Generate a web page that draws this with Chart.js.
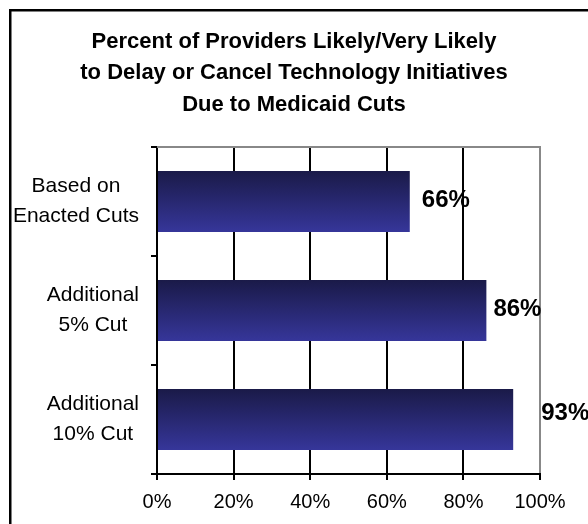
<!DOCTYPE html>
<html>
<head>
<meta charset="utf-8">
<script src="https://cdn.jsdelivr.net/npm/chart.js@4.4.1/dist/chart.umd.min.js"></script>
<style>
  html, body { margin: 0; padding: 0; background: #fff; }
  #wrap { width: 588px; height: 524px; }
</style>
</head>
<body>
<div id="wrap"><canvas id="chart"></canvas></div>
<script>
// Survey results
const categories = [['Based on', 'Enacted Cuts'], ['Additional', '5% Cut'], ['Additional', '10% Cut']];
const percentLikely = [66, 86, 93];
const xTickValues = [0, 20, 40, 60, 80, 100];
const titleLines = [
    'Percent of Providers Likely/Very Likely',
    'to Delay or Cancel Technology Initiatives',
    'Due to Medicaid Cuts'
];

// value label placement: gap after the bar end, and lift above bar centre
const labelGaps = [12, 7, 28];
const labelLifts = [1, 1, 6];

const FONT = '"Liberation Sans", Arial, sans-serif';

// Border around the whole figure
const framePlugin = {
    id: 'frame',
    beforeDraw(chart) {
        const ctx = chart.ctx;
        ctx.save();
        ctx.fillStyle = '#fff';
        ctx.fillRect(0, 0, chart.width, chart.height);
        ctx.strokeStyle = '#000';
        ctx.lineWidth = 2.5;
        ctx.strokeRect(10.25, 10.25, chart.width + 20, chart.height + 20);
        ctx.restore();
    }
};

// Gray line along the top of the plot area
const topEdgePlugin = {
    id: 'topEdge',
    beforeDatasetsDraw(chart) {
        const { ctx, chartArea } = chart;
        ctx.save();
        ctx.strokeStyle = '#888';
        ctx.lineWidth = 2;
        ctx.beginPath();
        ctx.moveTo(chartArea.left, chartArea.top);
        ctx.lineTo(chartArea.right + 1, chartArea.top);
        ctx.stroke();
        ctx.restore();
    }
};

// Two-line category names: each block sits left of the axis, lines centred inside it
const categoryLabelPlugin = {
    id: 'categoryLabels',
    afterDraw(chart) {
        const ctx = chart.ctx;
        const yScale = chart.scales.y;
        const blockRight = yScale.right - 18;
        const lineH = 30;
        ctx.save();
        ctx.font = '21px ' + FONT;
        ctx.fillStyle = '#000';
        ctx.textAlign = 'center';
        ctx.textBaseline = 'middle';
        chart.data.labels.forEach((lines, i) => {
            const w = Math.max(...lines.map(s => ctx.measureText(s).width));
            const cx = blockRight - w / 2;
            const cy = yScale.getPixelForValue(i);
            lines.forEach((s, j) => {
                ctx.fillText(s, cx, cy + (j - (lines.length - 1) / 2) * lineH);
            });
        });
        ctx.restore();
    }
};

// Bold percentage labels to the right of each bar
const valueLabelPlugin = {
    id: 'valueLabels',
    afterDatasetsDraw(chart) {
        const ctx = chart.ctx;
        const meta = chart.getDatasetMeta(0);
        ctx.save();
        ctx.font = 'bold 24px ' + FONT;
        ctx.fillStyle = '#000';
        ctx.textAlign = 'left';
        ctx.textBaseline = 'middle';
        meta.data.forEach((bar, i) => {
            ctx.fillText(percentLikely[i] + '%', bar.x + labelGaps[i], bar.y - labelLifts[i]);
        });
        ctx.restore();
    }
};

function barGradient(context) {
    const chart = context.chart;
    const yScale = chart.scales.y;
    if (!chart.chartArea || !yScale) return '#2a2a78';
    const band = Math.abs(yScale.getPixelForValue(1) - yScale.getPixelForValue(0));
    const half = band * 0.56 / 2;
    const yc = yScale.getPixelForValue(context.dataIndex);
    const g = chart.ctx.createLinearGradient(0, yc - half, 0, yc + half);
    g.addColorStop(0, '#1a1a48');
    g.addColorStop(1, '#36369a');
    return g;
}

const ctx = document.getElementById('chart').getContext('2d');
new Chart(ctx, {
    type: 'bar',
    data: {
        labels: categories,
        datasets: [{
            data: percentLikely,
            backgroundColor: barGradient,
            borderWidth: 0,
            categoryPercentage: 1,
            barPercentage: 0.56
        }]
    },
    options: {
        indexAxis: 'y',
        responsive: true,
        maintainAspectRatio: false,
        animation: false,
        layout: { padding: 0 },
        plugins: {
            legend: { display: false },
            tooltip: { enabled: false },
            title: {
                display: true,
                text: titleLines,
                color: '#000',
                font: { family: FONT, size: 22, weight: 'bold', lineHeight: 31.5 / 22 },
                padding: { top: 26, bottom: 26.5 }
            }
        },
        scales: {
            x: {
                min: 0,
                max: 100,
                afterBuildTicks(scale) {
                    scale.ticks = xTickValues.map(v => ({ value: v }));
                },
                afterFit(scale) { scale.height = 50; },
                border: { display: true, color: '#000', width: 2 },
                grid: {
                    color: c => (c.tick && c.tick.value === 100) ? '#888' : '#000',
                    lineWidth: 2,
                    tickLength: 6,
                    tickColor: '#000',
                    drawTicks: true
                },
                ticks: {
                    color: '#000',
                    padding: 10,
                    font: { family: FONT, size: 20 },
                    callback: v => v + '%'
                }
            },
            y: {
                afterFit(scale) { scale.width = 157; },
                border: { display: true, color: '#000', width: 2 },
                grid: {
                    drawOnChartArea: false,
                    tickLength: 6,
                    tickColor: '#000',
                    lineWidth: 2
                },
                ticks: { display: false }
            },
            // empty right-hand strip so the title centres on the full width
            margin: {
                type: 'linear',
                axis: 'y',
                position: 'right',
                afterFit(scale) { scale.width = 48; },
                border: { display: false },
                grid: { display: false },
                ticks: { display: false }
            }
        }
    },
    plugins: [framePlugin, topEdgePlugin, categoryLabelPlugin, valueLabelPlugin]
});
</script>
</body>
</html>
